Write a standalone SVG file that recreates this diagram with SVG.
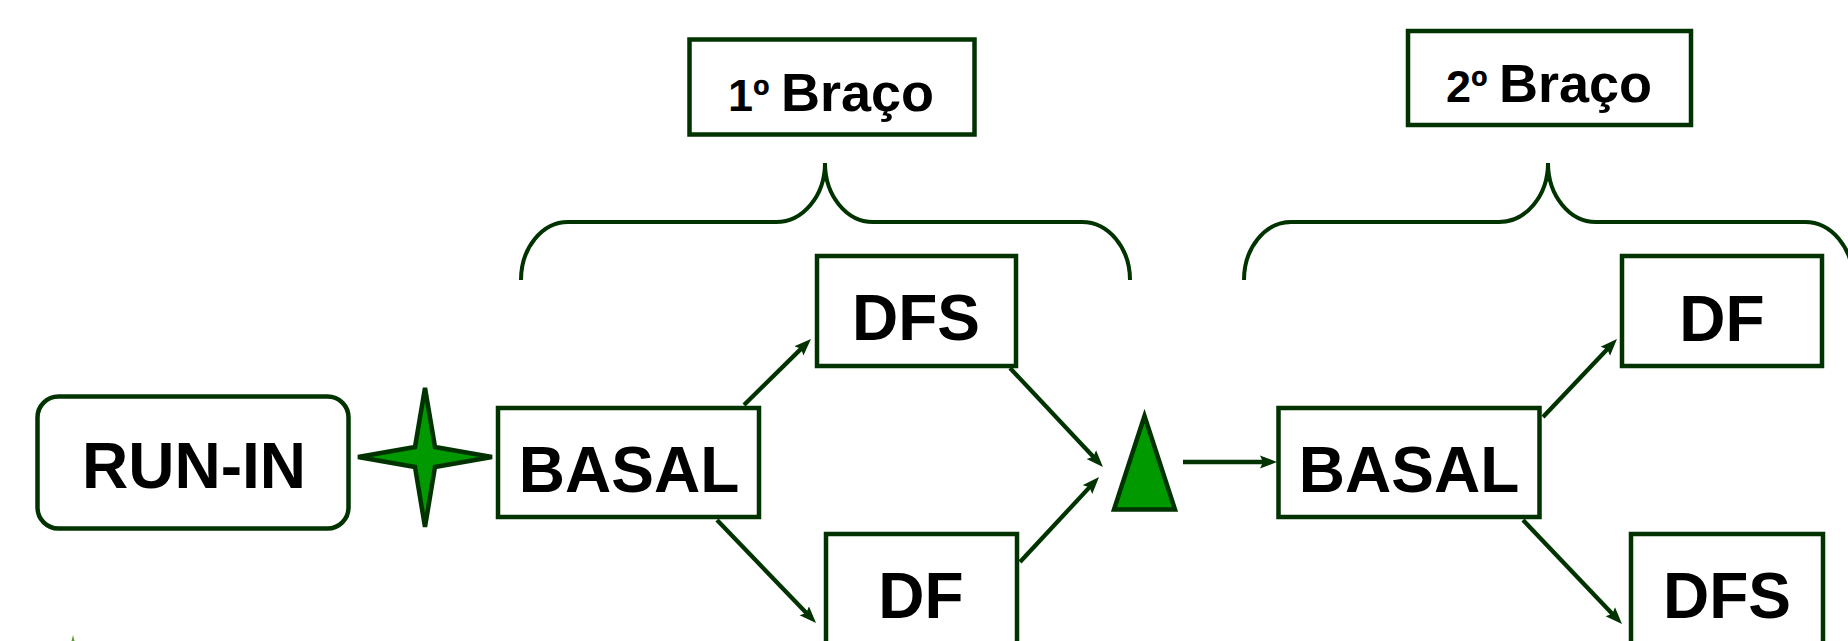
<svg xmlns="http://www.w3.org/2000/svg" width="1848" height="641" viewBox="0 0 1848 641">
<style>
.box{fill:#ffffff;stroke:#003300;stroke-width:4.5}
.shape{fill:#009900;stroke:#003300;stroke-width:4.5;stroke-linejoin:miter}
.lbl{font-family:"Liberation Sans",Arial,Helvetica,sans-serif;font-weight:bold;font-size:64px;fill:#000000;text-anchor:middle}
.ttl{font-family:"Liberation Sans",Arial,Helvetica,sans-serif;font-weight:bold;fill:#000000}
.num{font-size:45px}
.word{font-size:54px}
.brace{fill:none;stroke:#003300;stroke-width:4}
.conn{fill:none;stroke:#003300;stroke-width:4.3;marker-end:url(#arr)}
</style>
<defs>
<marker id="arr" markerUnits="userSpaceOnUse" markerWidth="17" markerHeight="14" viewBox="0 0 17 14" refX="9" refY="7" orient="auto">
<path d="M0,0.5 L17,7 L0,13.5 L3,7 z" fill="#003300"/>
</marker>
</defs>
<rect width="1848" height="641" fill="#ffffff"/>

<g id="title1">
<rect class="box" x="689.5" y="39.5" width="285" height="95"/>
<text class="ttl" y="111"><tspan class="num" x="728">1º</tspan><tspan class="word" x="781">Braço</tspan></text>
</g>
<g id="title2">
<rect class="box" x="1408" y="31" width="283" height="94"/>
<text class="ttl" y="102"><tspan class="num" x="1446">2º</tspan><tspan class="word" x="1499">Braço</tspan></text>
</g>

<g id="brace1">
<path class="brace" d="M521,280 A47,58 0 0 1 568,222 L776,222 A49,59 0 0 0 825,163 A48,59 0 0 0 873,222 L1082,222 A48,58 0 0 1 1130,280"/>
</g>
<g id="brace2">
<path class="brace" d="M1244,280 A47,58 0 0 1 1291,222 L1499,222 A49,59 0 0 0 1548,163 A48,59 0 0 0 1596,222 L1805,222 A48,58 0 0 1 1853,280"/>
</g>

<g id="connectors">
<line class="conn" x1="744" y1="405" x2="805.3" y2="344.6"/>
<line class="conn" x1="717" y1="520" x2="810.5" y2="617.2"/>
<line class="conn" x1="1010" y1="368" x2="1097.5" y2="461.2"/>
<line class="conn" x1="1020" y1="562" x2="1093.6" y2="482.9"/>
<line class="conn" x1="1183" y1="462" x2="1269" y2="462"/>
<line class="conn" x1="1543" y1="417" x2="1611.5" y2="344.8"/>
<line class="conn" x1="1523" y1="520" x2="1616.5" y2="618.2"/>
</g>

<g id="runin">
<rect class="box" x="37.5" y="396.5" width="311" height="132" rx="21" ry="21"/>
<text class="lbl" x="194" y="488">RUN-IN</text>
</g>
<g id="star">
<polygon class="shape" stroke-width="4" points="425,388 435,447 492,457 435,467 425,527 415,467 358,457 415,447"/>
</g>
<g id="basal1">
<rect class="box" x="498" y="408" width="261" height="109"/>
<text class="lbl" x="629" y="492">BASAL</text>
</g>
<g id="dfs1">
<rect class="box" x="817" y="256" width="199" height="110"/>
<text class="lbl" x="916" y="340">DFS</text>
</g>
<g id="df1">
<rect class="box" x="826" y="534" width="191" height="120"/>
<text class="lbl" x="921" y="618">DF</text>
</g>
<g id="triangle">
<polygon class="shape" points="1144.5,416 1114,509.5 1175,509.5"/>
</g>
<g id="basal2">
<rect class="box" x="1278.5" y="408" width="261" height="109"/>
<text class="lbl" x="1409" y="492">BASAL</text>
</g>
<g id="df2">
<rect class="box" x="1622" y="256" width="200" height="110"/>
<text class="lbl" x="1722" y="341">DF</text>
</g>
<g id="dfs2">
<rect class="box" x="1631" y="534" width="192" height="120"/>
<text class="lbl" x="1727" y="618">DFS</text>
</g>
<g id="tick">
<polygon points="73,635 71.5,641 74.5,641" fill="#5a9a30"/>
</g>
</svg>
